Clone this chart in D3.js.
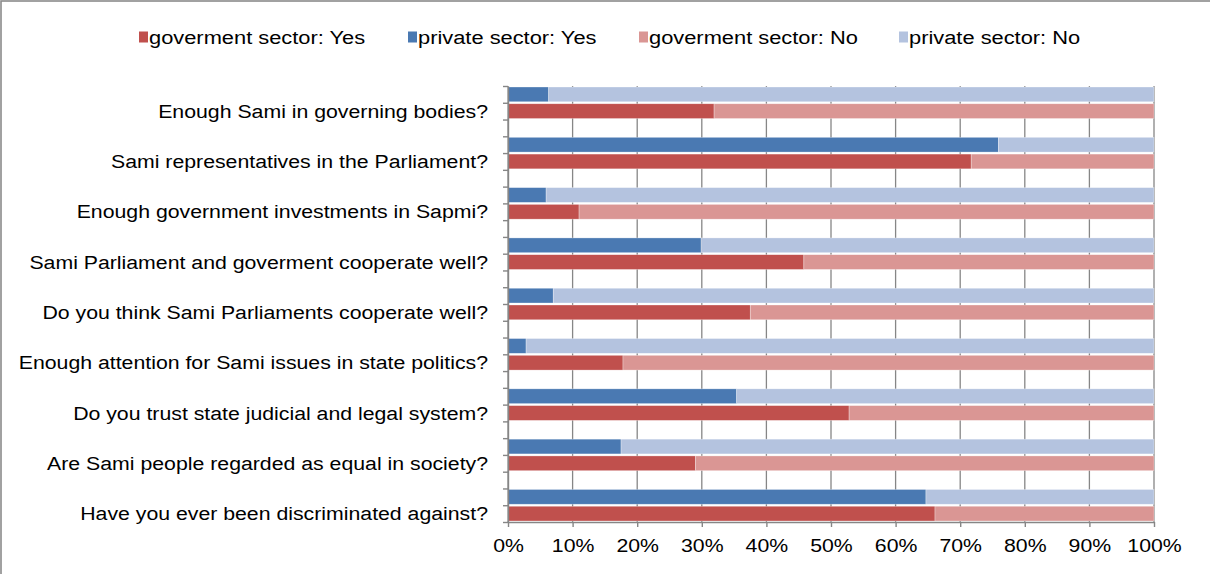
<!DOCTYPE html>
<html>
<head>
<meta charset="utf-8">
<script src="https://cdn.jsdelivr.net/npm/d3@7"></script>
<style>
  html, body { margin: 0; padding: 0; background: #fff; }
  svg { display: block; font-family: "Liberation Sans", Arial, sans-serif; }
</style>
</head>
<body>
<svg id="chart" width="1210" height="574"></svg>
<script>
// Survey questions, top to bottom
const categories = [
  "Enough Sami in governing bodies?",
  "Sami representatives in the Parliament?",
  "Enough government investments in Sapmi?",
  "Sami Parliament and goverment cooperate well?",
  "Do you think Sami Parliaments cooperate well?",
  "Enough attention for Sami issues in state politics?",
  "Do you trust state judicial and legal system?",
  "Are Sami people regarded as equal in society?",
  "Have you ever been discriminated against?"
];

// Share of answers (%) per question
const govYes  = [31.9, 71.7, 11.0, 45.8, 37.5, 17.8, 52.8, 29.0, 66.1];
const govNo   = [68.1, 28.3, 89.0, 54.2, 62.5, 82.2, 47.2, 71.0, 33.9];
const privYes = [6.3, 75.9, 5.9, 29.9, 7.0, 2.8, 35.4, 17.5, 64.7];
const privNo  = [93.7, 24.1, 94.1, 70.1, 93.0, 97.2, 64.6, 82.5, 35.3];

const xTickValues = [0, 0.1, 0.2, 0.3, 0.4, 0.5, 0.6, 0.7, 0.8, 0.9, 1];

const legendItems = [
  { label: "goverment sector: Yes", color: "#C0504D" },
  { label: "private sector: Yes",   color: "#4A79B2" },
  { label: "goverment sector: No",  color: "#DA9694" },
  { label: "private sector: No",    color: "#B4C3DF" }
];

const svg = d3.select("#chart");
const stretch = "scale(1.12,1)";
const legendStretch = "scale(1.15,1)";
const fontSize = 19;

// Outer frame
svg.append("rect")
  .attr("x", 1).attr("y", 1)
  .attr("width", 1230).attr("height", 600)
  .attr("fill", "#fff")
  .attr("stroke", "#8a8a8a").attr("stroke-width", 1.6);

// Rows: each question has a private row, a government row and a spacer row
const nSlots = categories.length * 3 - 1;
const rows = [];
categories.forEach((c, i) => {
  rows.push({ slot: 3 * i,     yes: privYes[i], no: privNo[i], yesColor: legendItems[1].color, noColor: legendItems[3].color });
  rows.push({ slot: 3 * i + 1, yes: govYes[i],  no: govNo[i],  yesColor: legendItems[0].color, noColor: legendItems[2].color });
});

const plotTop = 86, plotBottom = 522, plotLeft = 508, plotRight = 1154;

const x = d3.scaleLinear().domain([0, 1]).range([plotLeft, plotRight]);
const y = d3.scaleBand()
  .domain(d3.range(nSlots))
  .range([plotTop, plotBottom])
  .paddingInner(0.12)
  .paddingOuter(0.06);
const slotEdge = d3.scaleLinear().domain([0, nSlots]).range([plotTop, plotBottom]);

// Vertical gridlines
svg.append("g")
  .selectAll("line")
  .data(xTickValues)
  .join("line")
  .attr("x1", d => x(d)).attr("x2", d => x(d))
  .attr("y1", plotTop).attr("y2", plotBottom)
  .attr("stroke", "#868686").attr("stroke-width", 1.3);

// Stacked 100% bars
const stack = d3.stack().keys(["yes", "no"]).offset(d3.stackOffsetExpand);
const series = stack(rows);
const barG = svg.append("g");
series.forEach(s => {
  barG.selectAll(null)
    .data(s)
    .join("rect")
    .attr("x", d => x(d[0]))
    .attr("width", d => x(d[1]) - x(d[0]))
    .attr("y", d => y(d.data.slot))
    .attr("height", y.bandwidth())
    .attr("fill", d => s.key === "yes" ? d.data.yesColor : d.data.noColor)
    .attr("stroke", "#ffffff").attr("stroke-opacity", 0.5).attr("stroke-width", 0.6);
});

// Left axis with ticks at row boundaries
const yAxis = svg.append("g")
  .attr("transform", `translate(${plotLeft},0)`)
  .call(d3.axisLeft(slotEdge).tickValues(d3.range(nSlots + 1)).tickFormat("").tickSize(5).tickSizeOuter(0));
yAxis.select(".domain").attr("stroke", "#868686").attr("stroke-width", 1.4);
yAxis.selectAll(".tick line").attr("stroke", "#868686").attr("stroke-width", 1.4);

// Bottom axis
const xAxis = svg.append("g")
  .attr("transform", `translate(0,${plotBottom})`)
  .call(d3.axisBottom(x).tickValues(xTickValues).tickFormat(d3.format(".0%")).tickSize(5).tickSizeOuter(0).tickPadding(12));
xAxis.select(".domain").attr("stroke", "#868686").attr("stroke-width", 1.4);
xAxis.selectAll(".tick line").attr("stroke", "#868686").attr("stroke-width", 1.4);
xAxis.selectAll(".tick text")
  .attr("font-size", fontSize)
  .attr("font-family", "Liberation Sans, Arial, sans-serif")
  .attr("fill", "#000")
  .attr("transform", stretch);

// Question labels, aligned with the government row
svg.append("g")
  .selectAll("g")
  .data(categories)
  .join("g")
  .attr("transform", (d, i) => `translate(488,${y(3 * i + 1) + y.bandwidth() / 2})`)
  .append("text")
  .attr("transform", stretch)
  .attr("text-anchor", "end")
  .attr("dy", "0.35em")
  .attr("font-size", fontSize)
  .attr("fill", "#000")
  .text(d => d);

// Legend
const legendX = [139, 408, 639, 899];
const legend = svg.append("g")
  .selectAll("g")
  .data(legendItems)
  .join("g")
  .attr("transform", (d, i) => `translate(${legendX[i]},37)`);
legend.append("rect")
  .attr("x", 0).attr("y", -5.5)
  .attr("width", 9).attr("height", 11)
  .attr("fill", d => d.color);
legend.append("g")
  .attr("transform", "translate(10,0)")
  .append("text")
  .attr("transform", legendStretch)
  .attr("dy", "0.35em")
  .attr("font-size", fontSize)
  .attr("fill", "#000")
  .text(d => d.label);
</script>
</body>
</html>
